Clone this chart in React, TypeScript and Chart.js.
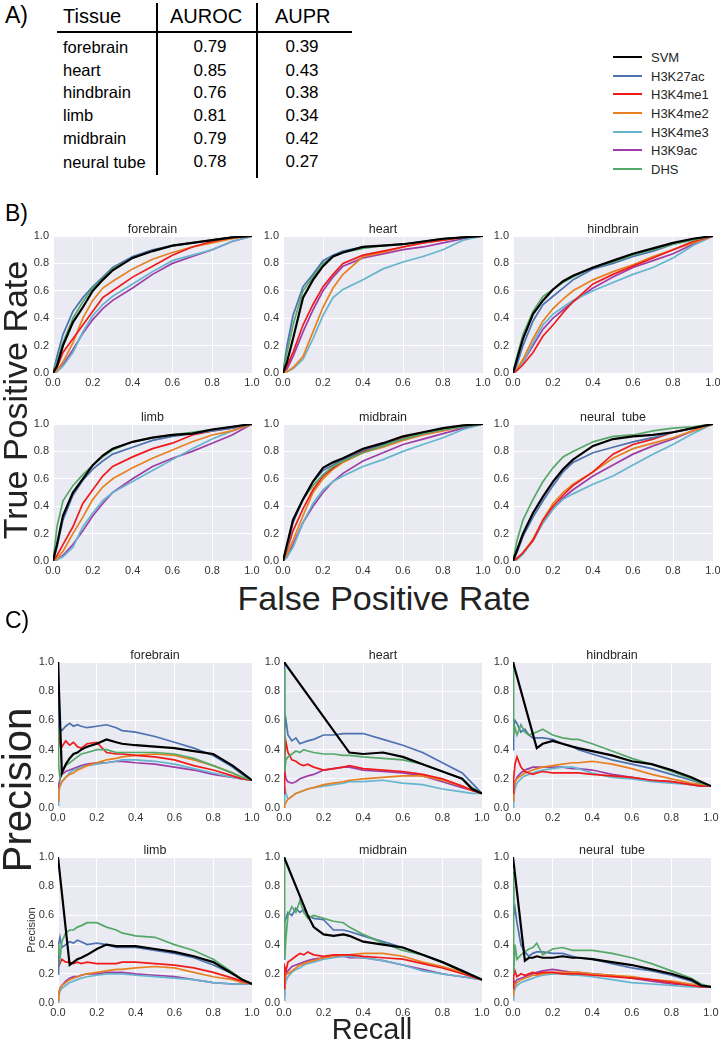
import React, { useEffect, useRef } from "react";
import { Chart, registerables } from "chart.js";
Chart.register(...registerables);

// ---------- data ----------
const SERIES = ["SVM", "H3K27ac", "H3K4me1", "H3K4me2", "H3K4me3", "H3K9ac", "DHS"];
const COLORS = ["#000000", "#4C72B0", "#F01A1A", "#E8801F", "#64B5CD", "#9E3DA8", "#55A868"];
const DRAW_ORDER = [0, 2, 3, 4, 5, 6, 1];
const TISSUES = ["forebrain", "heart", "hindbrain", "limb", "midbrain", "neural  tube"];
const TABLE_TISSUES = ["forebrain", "heart", "hindbrain", "limb", "midbrain", "neural tube"];
const AUROC = ["0.79", "0.85", "0.76", "0.81", "0.79", "0.78"];
const AUPR = ["0.39", "0.43", "0.38", "0.34", "0.42", "0.27"];
const TICKS = [0, 0.2, 0.4, 0.6, 0.8, 1.0];

const ROC_FPR = [0, 0.02, 0.05, 0.1, 0.15, 0.2, 0.25, 0.3, 0.4, 0.5, 0.6, 0.7, 0.8, 0.9, 1.0];
// series order: SVM, H3K27ac, H3K4me1, H3K4me2, H3K4me3, H3K9ac, DHS
const rocForebrain = [
  [0, 0.05, 0.2, 0.37, 0.48, 0.6, 0.68, 0.75, 0.84, 0.89, 0.93, 0.95, 0.97, 0.99, 1],
  [0, 0.12, 0.28, 0.45, 0.55, 0.63, 0.7, 0.77, 0.85, 0.9, 0.93, 0.95, 0.97, 0.99, 1],
  [0, 0.04, 0.15, 0.25, 0.35, 0.45, 0.55, 0.6, 0.7, 0.78, 0.86, 0.92, 0.96, 0.99, 1],
  [0, 0.02, 0.08, 0.22, 0.4, 0.53, 0.62, 0.67, 0.76, 0.83, 0.88, 0.92, 0.95, 0.98, 1],
  [0, 0.01, 0.05, 0.15, 0.3, 0.42, 0.5, 0.56, 0.65, 0.74, 0.82, 0.86, 0.9, 0.96, 1],
  [0, 0.01, 0.06, 0.17, 0.29, 0.39, 0.47, 0.53, 0.62, 0.72, 0.8, 0.85, 0.9, 0.96, 1],
  [0, 0.08, 0.22, 0.4, 0.52, 0.62, 0.69, 0.76, 0.84, 0.89, 0.93, 0.95, 0.97, 0.99, 1],
];
const rocHeart = [
  [0, 0.08, 0.25, 0.55, 0.68, 0.78, 0.85, 0.88, 0.92, 0.93, 0.94, 0.96, 0.98, 0.99, 1],
  [0, 0.2, 0.42, 0.63, 0.72, 0.82, 0.86, 0.89, 0.92, 0.93, 0.94, 0.96, 0.98, 0.99, 1],
  [0, 0.05, 0.15, 0.35, 0.5, 0.63, 0.72, 0.8, 0.86, 0.89, 0.92, 0.95, 0.97, 0.99, 1],
  [0, 0.01, 0.04, 0.12, 0.3, 0.48, 0.62, 0.72, 0.85, 0.88, 0.92, 0.95, 0.97, 0.99, 1],
  [0, 0.01, 0.03, 0.1, 0.25, 0.42, 0.55, 0.61, 0.68, 0.76, 0.81, 0.85, 0.9, 0.97, 1],
  [0, 0.03, 0.12, 0.3, 0.46, 0.6, 0.7, 0.78, 0.84, 0.87, 0.9, 0.92, 0.95, 0.98, 1],
  [0, 0.15, 0.35, 0.6, 0.7, 0.8, 0.85, 0.88, 0.91, 0.93, 0.94, 0.96, 0.98, 0.99, 1],
];
const rocHindbrain = [
  [0, 0.1, 0.25, 0.43, 0.53, 0.61, 0.67, 0.71, 0.77, 0.82, 0.87, 0.91, 0.95, 0.98, 1],
  [0, 0.06, 0.2, 0.38, 0.5, 0.56, 0.62, 0.68, 0.76, 0.8, 0.85, 0.89, 0.94, 0.98, 1],
  [0, 0.02, 0.06, 0.15, 0.27, 0.35, 0.44, 0.52, 0.65, 0.72, 0.78, 0.84, 0.9, 0.96, 1],
  [0, 0.03, 0.1, 0.25, 0.38, 0.47, 0.54, 0.6, 0.68, 0.74, 0.79, 0.85, 0.9, 0.95, 1],
  [0, 0.02, 0.08, 0.22, 0.35, 0.43, 0.48, 0.53, 0.6, 0.66, 0.72, 0.77, 0.84, 0.93, 1],
  [0, 0.02, 0.08, 0.2, 0.32, 0.4, 0.46, 0.52, 0.62, 0.7, 0.77, 0.82, 0.87, 0.94, 1],
  [0, 0.12, 0.28, 0.45, 0.56, 0.61, 0.66, 0.7, 0.77, 0.81, 0.86, 0.9, 0.94, 0.97, 1],
];
const rocLimb = [
  [0, 0.12, 0.33, 0.5, 0.6, 0.7, 0.77, 0.82, 0.87, 0.9, 0.92, 0.93, 0.96, 0.98, 1],
  [0, 0.1, 0.3, 0.48, 0.59, 0.67, 0.73, 0.78, 0.83, 0.88, 0.91, 0.93, 0.95, 0.97, 1],
  [0, 0.04, 0.12, 0.25, 0.42, 0.52, 0.62, 0.69, 0.76, 0.82, 0.86, 0.92, 0.95, 0.97, 1],
  [0, 0.02, 0.07, 0.2, 0.32, 0.45, 0.54, 0.6, 0.68, 0.75, 0.81, 0.87, 0.92, 0.95, 1],
  [0, 0.01, 0.03, 0.1, 0.25, 0.35, 0.44, 0.5, 0.58, 0.66, 0.74, 0.82, 0.89, 0.95, 1],
  [0, 0.01, 0.04, 0.12, 0.22, 0.33, 0.42, 0.5, 0.6, 0.69, 0.75, 0.8, 0.86, 0.92, 1],
  [0, 0.25, 0.44, 0.55, 0.63, 0.7, 0.76, 0.81, 0.87, 0.9, 0.92, 0.94, 0.96, 0.98, 1],
];
const rocMidbrain = [
  [0, 0.12, 0.3, 0.45, 0.58, 0.68, 0.72, 0.75, 0.82, 0.86, 0.91, 0.94, 0.97, 0.99, 1],
  [0, 0.1, 0.28, 0.45, 0.58, 0.66, 0.7, 0.74, 0.81, 0.85, 0.89, 0.93, 0.96, 0.98, 1],
  [0, 0.08, 0.22, 0.38, 0.52, 0.62, 0.68, 0.73, 0.8, 0.85, 0.9, 0.94, 0.96, 0.98, 1],
  [0, 0.05, 0.15, 0.33, 0.5, 0.6, 0.67, 0.72, 0.79, 0.83, 0.88, 0.92, 0.95, 0.98, 1],
  [0, 0.03, 0.1, 0.28, 0.42, 0.52, 0.58, 0.62, 0.69, 0.74, 0.8, 0.85, 0.9, 0.96, 1],
  [0, 0.03, 0.12, 0.28, 0.4, 0.5, 0.58, 0.64, 0.73, 0.79, 0.85, 0.89, 0.93, 0.97, 1],
  [0, 0.1, 0.3, 0.45, 0.55, 0.63, 0.69, 0.73, 0.79, 0.84, 0.89, 0.93, 0.96, 0.98, 1],
];
const rocNeuralTube = [
  [0, 0.08, 0.2, 0.35, 0.47, 0.58, 0.67, 0.74, 0.84, 0.89, 0.91, 0.92, 0.94, 0.97, 1],
  [0, 0.06, 0.18, 0.32, 0.44, 0.55, 0.65, 0.72, 0.79, 0.83, 0.87, 0.9, 0.94, 0.97, 1],
  [0, 0.02, 0.06, 0.15, 0.3, 0.4, 0.48, 0.55, 0.65, 0.78, 0.85, 0.89, 0.94, 0.97, 1],
  [0, 0.02, 0.06, 0.16, 0.3, 0.42, 0.5, 0.56, 0.65, 0.75, 0.82, 0.86, 0.9, 0.95, 1],
  [0, 0.01, 0.05, 0.15, 0.28, 0.38, 0.45, 0.49, 0.56, 0.62, 0.7, 0.78, 0.85, 0.93, 1],
  [0, 0.02, 0.06, 0.15, 0.28, 0.38, 0.46, 0.52, 0.62, 0.7, 0.78, 0.84, 0.89, 0.95, 1],
  [0, 0.15, 0.3, 0.45, 0.58, 0.68, 0.76, 0.8, 0.87, 0.91, 0.92, 0.95, 0.97, 0.98, 1],
];

const PR_RECALL = [0, 0.003, 0.01, 0.02, 0.04, 0.06, 0.08, 0.1, 0.12, 0.15, 0.2, 0.25, 0.3, 0.33, 0.4, 0.5, 0.6, 0.7, 0.8, 0.9, 0.95, 1.0];
const prForebrain = [
  [1.0, null, null, 0.24, 0.3, 0.34, 0.37, 0.38, 0.4, 0.42, 0.44, 0.47, 0.45, 0.44, 0.43, 0.42, 0.41, 0.39, 0.37, 0.29, 0.24, 0.19],
  [1.0, 0.5, 0.55, 0.53, 0.56, 0.58, 0.56, 0.57, 0.56, 0.55, 0.56, 0.57, 0.55, 0.53, 0.52, 0.49, 0.45, 0.41, 0.36, 0.28, 0.23, 0.19],
  [0.75, 0.42, 0.47, 0.42, 0.46, 0.43, 0.45, 0.42, 0.41, 0.44, 0.45, 0.38, 0.37, 0.37, 0.36, 0.35, 0.33, 0.29, 0.26, 0.22, 0.2, 0.19],
  [0.05, 0.12, 0.15, 0.18, 0.21, 0.23, 0.24, 0.26, 0.27, 0.29, 0.31, 0.33, 0.34, 0.35, 0.36, 0.37, 0.36, 0.33, 0.29, 0.24, 0.21, 0.19],
  [0.02, 0.1, 0.15, 0.18, 0.21, 0.24, 0.26, 0.27, 0.28, 0.29, 0.3, 0.31, 0.32, 0.33, 0.33, 0.32, 0.3, 0.27, 0.24, 0.21, 0.2, 0.19],
  [0.05, 0.15, 0.2, 0.23, 0.25, 0.26, 0.27, 0.28, 0.29, 0.3, 0.31, 0.31, 0.32, 0.32, 0.31, 0.3, 0.28, 0.26, 0.23, 0.21, 0.2, 0.19],
  [0.55, 0.3, 0.2, 0.25, 0.29, 0.31, 0.33, 0.35, 0.37, 0.38, 0.4, 0.4, 0.38, 0.38, 0.38, 0.38, 0.37, 0.34, 0.29, 0.24, 0.21, 0.19],
];
const prHeart = [
  [1.0, null, null, null, null, null, null, null, null, null, null, null, null, 0.38, 0.37, 0.38, 0.35, 0.3, 0.25, 0.2, 0.13, 0.1],
  [1.0, 0.55, 0.6, 0.5, 0.46, 0.48, 0.44, 0.45, 0.46, 0.47, 0.5, 0.5, 0.51, 0.51, 0.51, 0.47, 0.43, 0.38, 0.31, 0.24, 0.17, 0.1],
  [0.1, 0.35, 0.45, 0.38, 0.33, 0.32, 0.3, 0.29, 0.3, 0.28, 0.26, 0.27, 0.28, 0.29, 0.27, 0.26, 0.25, 0.23, 0.2, 0.15, 0.12, 0.1],
  [0.0, 0.02, 0.04, 0.06, 0.08, 0.1, 0.11, 0.12, 0.13, 0.14, 0.16, 0.17, 0.18, 0.19, 0.2, 0.21, 0.22, 0.22, 0.19, 0.15, 0.12, 0.1],
  [0.0, 0.15, 0.1, 0.06, 0.08, 0.1, 0.11, 0.12, 0.13, 0.14, 0.15, 0.16, 0.17, 0.18, 0.18, 0.19, 0.17, 0.16, 0.13, 0.11, 0.1, 0.1],
  [0.65, 0.25, 0.2, 0.18, 0.17, 0.18, 0.2, 0.21, 0.22, 0.23, 0.26, 0.27, 0.28, 0.28, 0.26, 0.25, 0.24, 0.22, 0.18, 0.14, 0.12, 0.1],
  [0.95, 0.25, 0.33, 0.35, 0.37, 0.39, 0.38, 0.4, 0.39, 0.38, 0.37, 0.37, 0.36, 0.36, 0.35, 0.34, 0.33, 0.3, 0.25, 0.2, 0.14, 0.1],
];
const prHindbrain = [
  [1.0, null, null, null, null, null, null, null, 0.41, 0.44, 0.46, 0.44, 0.42, 0.41, 0.39, 0.36, 0.32, 0.3, 0.26, 0.21, 0.18, 0.15],
  [0.4, 0.55, 0.6, 0.58, 0.52, 0.54, 0.5, 0.48, 0.48, 0.48, 0.47, 0.44, 0.42, 0.4, 0.37, 0.33, 0.3, 0.27, 0.23, 0.19, 0.17, 0.15],
  [0.1, 0.2, 0.3, 0.35, 0.28, 0.25, 0.24, 0.23, 0.24, 0.25, 0.24, 0.24, 0.24, 0.24, 0.23, 0.22, 0.21, 0.19, 0.18, 0.16, 0.15, 0.15],
  [0.05, 0.12, 0.18, 0.2, 0.22, 0.24, 0.25, 0.26, 0.27, 0.28, 0.29, 0.3, 0.31, 0.31, 0.32, 0.3, 0.27, 0.23, 0.2, 0.17, 0.16, 0.15],
  [0.0, 0.08, 0.13, 0.17, 0.2, 0.22, 0.23, 0.24, 0.25, 0.26, 0.27, 0.28, 0.28, 0.27, 0.24, 0.21, 0.2, 0.18, 0.17, 0.16, 0.15, 0.15],
  [0.05, 0.12, 0.18, 0.21, 0.24, 0.26, 0.27, 0.28, 0.28, 0.28, 0.28, 0.28, 0.27, 0.27, 0.26, 0.23, 0.21, 0.19, 0.18, 0.16, 0.15, 0.15],
  [1.0, 0.5, 0.55, 0.5, 0.57, 0.52, 0.5, 0.51, 0.52, 0.54, 0.5, 0.48, 0.47, 0.47, 0.44, 0.39, 0.34, 0.3, 0.25, 0.2, 0.17, 0.15],
];
const prLimb = [
  [1.0, null, null, null, null, 0.26, 0.28, 0.3, 0.31, 0.33, 0.37, 0.4, 0.39, 0.39, 0.39, 0.37, 0.35, 0.32, 0.28, 0.2, 0.16, 0.13],
  [0.2, 0.4, 0.45, 0.38, 0.4, 0.42, 0.41, 0.43, 0.42, 0.4, 0.41, 0.4, 0.38, 0.38, 0.38, 0.36, 0.34, 0.31, 0.26, 0.2, 0.16, 0.13],
  [0.25, 0.3, 0.27, 0.3, 0.28, 0.28, 0.27, 0.28, 0.27, 0.28, 0.27, 0.27, 0.27, 0.28, 0.28, 0.27, 0.26, 0.24, 0.21, 0.17, 0.15, 0.13],
  [0.02, 0.06, 0.1, 0.12, 0.14, 0.16, 0.17, 0.18, 0.19, 0.2, 0.21, 0.22, 0.23, 0.23, 0.24, 0.25, 0.24, 0.21, 0.18, 0.16, 0.14, 0.13],
  [0.0, 0.04, 0.08, 0.1, 0.12, 0.14, 0.15, 0.16, 0.17, 0.18, 0.19, 0.2, 0.2, 0.2, 0.19, 0.18, 0.17, 0.16, 0.14, 0.13, 0.13, 0.13],
  [0.02, 0.06, 0.1, 0.12, 0.15, 0.17, 0.18, 0.18, 0.19, 0.2, 0.2, 0.21, 0.21, 0.21, 0.2, 0.19, 0.18, 0.16, 0.14, 0.13, 0.13, 0.13],
  [0.35, 0.4, 0.3, 0.42, 0.48, 0.5, 0.5, 0.52, 0.53, 0.55, 0.55, 0.52, 0.5, 0.48, 0.46, 0.45, 0.4, 0.36, 0.3, 0.21, 0.16, 0.13],
];
const prMidbrain = [
  [1.0, null, null, null, null, null, null, null, 0.6, 0.52, 0.47, 0.46, 0.47, 0.46, 0.42, 0.4, 0.38, 0.33, 0.28, 0.22, 0.19, 0.16],
  [0.3, 0.55, 0.58, 0.62, 0.6, 0.65, 0.62, 0.64, 0.6, 0.58, 0.57, 0.5, 0.5, 0.49, 0.46, 0.42, 0.38, 0.33, 0.28, 0.22, 0.19, 0.16],
  [0.1, 0.25, 0.22, 0.28, 0.3, 0.32, 0.34, 0.33, 0.35, 0.33, 0.32, 0.33, 0.33, 0.33, 0.32, 0.31, 0.3, 0.27, 0.24, 0.2, 0.18, 0.16],
  [0.1, 0.15, 0.2, 0.2, 0.22, 0.24, 0.26, 0.27, 0.28, 0.29, 0.31, 0.32, 0.33, 0.33, 0.34, 0.34, 0.32, 0.28, 0.25, 0.21, 0.18, 0.16],
  [0.02, 0.1, 0.15, 0.18, 0.21, 0.23, 0.24, 0.26, 0.27, 0.28, 0.3, 0.31, 0.32, 0.32, 0.31, 0.29, 0.26, 0.22, 0.2, 0.18, 0.17, 0.16],
  [0.05, 0.15, 0.2, 0.22, 0.25, 0.26, 0.27, 0.28, 0.29, 0.3, 0.31, 0.32, 0.32, 0.31, 0.31, 0.29, 0.26, 0.23, 0.2, 0.18, 0.17, 0.16],
  [1.0, 0.3, 0.45, 0.6, 0.66, 0.62, 0.7, 0.62, 0.58, 0.6, 0.58, 0.56, 0.55, 0.52, 0.47, 0.41, 0.36, 0.33, 0.28, 0.22, 0.19, 0.16],
];
const prNeuralTube = [
  [1.0, null, null, null, null, 0.29, 0.31, 0.31, 0.32, 0.31, 0.31, 0.32, 0.31, 0.31, 0.3, 0.28, 0.26, 0.23, 0.2, 0.16, 0.12, 0.11],
  [0.8, 0.6, 0.65, 0.55, 0.4, 0.35, 0.32, 0.34, 0.35, 0.35, 0.34, 0.34, 0.32, 0.31, 0.3, 0.27, 0.24, 0.22, 0.19, 0.15, 0.12, 0.11],
  [0.1, 0.18, 0.22, 0.18, 0.2, 0.19, 0.2, 0.21, 0.2, 0.21, 0.21, 0.2, 0.2, 0.2, 0.19, 0.18, 0.17, 0.16, 0.14, 0.12, 0.11, 0.11],
  [0.05, 0.1, 0.12, 0.14, 0.16, 0.17, 0.18, 0.19, 0.19, 0.2, 0.21, 0.21, 0.21, 0.21, 0.2, 0.19, 0.18, 0.16, 0.15, 0.13, 0.12, 0.11],
  [0.02, 0.06, 0.1, 0.12, 0.14, 0.15, 0.16, 0.17, 0.18, 0.19, 0.2, 0.2, 0.19, 0.19, 0.18, 0.16, 0.14, 0.13, 0.12, 0.11, 0.11, 0.11],
  [0.1, 0.15, 0.14, 0.16, 0.17, 0.18, 0.19, 0.2, 0.21, 0.22, 0.23, 0.22, 0.21, 0.21, 0.2, 0.19, 0.17, 0.15, 0.13, 0.12, 0.11, 0.11],
  [0.9, 0.2, 0.4, 0.3, 0.33, 0.35, 0.37, 0.38, 0.41, 0.33, 0.37, 0.38, 0.36, 0.36, 0.36, 0.34, 0.31, 0.27, 0.22, 0.17, 0.13, 0.11],
];

const ROC_DATA = [rocForebrain, rocHeart, rocHindbrain, rocLimb, rocMidbrain, rocNeuralTube];
const PR_DATA = [prForebrain, prHeart, prHindbrain, prLimb, prMidbrain, prNeuralTube];

// ---------- layout ----------
const FONT = '"Liberation Sans", Arial, Helvetica, sans-serif';
const ROC_LEFT = [53, 283, 513];
const ROC_WIDTH = [199, 200, 200];
const ROC_TOP = [236, 424];
const ROC_HEIGHT = 137;
const PR_LEFT = [58, 284, 513];
const PR_WIDTH = [194, 198, 198];
const PR_TOP = [662, 857];
const PR_HEIGHT = 146;
const PAD_L = 36, PAD_T = 18, PAD_R = 14, PAD_B = 18;

const panelPlugin = {
  id: "panelDecor",
  beforeDraw(chart: any) {
    const { ctx, chartArea: a } = chart;
    ctx.save();
    ctx.fillStyle = "#EAEAF2";
    ctx.fillRect(a.left, a.top, a.right - a.left, a.bottom - a.top);
    ctx.restore();
  },
  afterDraw(chart: any, _args: any, opts: any) {
    const { ctx, chartArea: a } = chart;
    ctx.save();
    ctx.font = `12.5px ${FONT}`;
    ctx.fillStyle = "#262626";
    ctx.textAlign = "center";
    ctx.textBaseline = "alphabetic";
    ctx.fillText(opts.text, (a.left + a.right) / 2, a.top - 3);
    ctx.restore();
  },
};

function Panel(props: { left: number; top: number; width: number; height: number; title: string; xs: number[]; ys: (number | null)[][] }) {
  const { left, top, width, height, title, xs, ys } = props;
  const ref = useRef<HTMLCanvasElement | null>(null);
  useEffect(() => {
    const tickFont = { family: FONT, size: 11 };
    const axis = (isX: boolean) => ({
      type: "linear" as const,
      min: 0,
      max: 1,
      afterBuildTicks: (s: any) => { s.ticks = TICKS.map((v) => ({ value: v })); },
      afterFit: (s: any) => { if (isX) s.height = PAD_B; else s.width = PAD_L; },
      grid: { color: "#FFFFFF", lineWidth: 1, drawTicks: false },
      border: { display: false },
      ticks: {
        font: tickFont,
        color: "#333333",
        padding: isX ? 3 : 4,
        maxRotation: 0,
        autoSkip: false,
        callback: (v: any) => Number(v).toFixed(1),
      },
    });
    const chart = new Chart(ref.current as HTMLCanvasElement, {
      type: "line",
      data: {
        datasets: SERIES.map((name, i) => ({
          label: name,
          data: xs.map((x, j) => ({ x, y: ys[i][j] })),
          borderColor: COLORS[i],
          backgroundColor: COLORS[i],
          borderWidth: i === 0 ? 2.2 : 1.7,
          pointRadius: 0,
          fill: false,
          tension: 0,
          spanGaps: true,
          order: DRAW_ORDER[i],
        })),
      },
      options: {
        animation: false,
        responsive: false,
        devicePixelRatio: 1,
        layout: { padding: { top: PAD_T, right: PAD_R, left: 0, bottom: 0 } },
        scales: { x: axis(true), y: axis(false) },
        plugins: {
          legend: { display: false },
          tooltip: { enabled: false },
          panelDecor: { text: title },
        } as any,
        events: [],
      },
      plugins: [panelPlugin],
    });
    return () => chart.destroy();
  }, []);
  return (
    <canvas
      ref={ref}
      width={width + PAD_L + PAD_R}
      height={height + PAD_T + PAD_B}
      style={{ position: "absolute", left: left - PAD_L, top: top - PAD_T, width: width + PAD_L + PAD_R, height: height + PAD_T + PAD_B }}
    />
  );
}

function Txt(props: { x: number; base: number; size: number; children: any; color?: string; align?: "left" | "center"; w?: number }) {
  const { x, base, size, children, color, align, w } = props;
  const top = base - 0.8465 * size;
  const style: any = {
    position: "absolute",
    top,
    fontFamily: FONT,
    fontSize: size,
    lineHeight: `${size}px`,
    color: color || "#000",
    whiteSpace: "pre",
  };
  if (align === "center") {
    style.left = x - (w || 60) / 2;
    style.width = w || 60;
    style.textAlign = "center";
  } else style.left = x;
  return <div style={style}>{children}</div>;
}

function VText(props: { cx: number; cy: number; size: number; children: any; color?: string }) {
  const { cx, cy, size, children, color } = props;
  return (
    <div
      style={{
        position: "absolute",
        left: cx,
        top: cy,
        transform: "translate(-50%, -50%) rotate(-90deg)",
        fontFamily: FONT,
        fontSize: size,
        lineHeight: `${size}px`,
        color: color || "#222",
        whiteSpace: "nowrap",
      }}
    >
      {children}
    </div>
  );
}

export default function App() {
  const rowBase = [52.7, 76, 98.3, 121, 144.3, 167.7];
  const legendY = [57, 76, 94, 113, 132, 150, 169];
  return (
    <div style={{ position: "absolute", left: 0, top: 0, width: 720, height: 1050, background: "#fff", overflow: "hidden" }}>
      {/* Panel A: table */}
      <Txt x={5} base={23} size={23}>A)</Txt>
      <Txt x={63} base={23} size={20}>Tissue</Txt>
      <Txt x={170} base={23} size={20}>AUROC</Txt>
      <Txt x={275} base={23} size={20}>AUPR</Txt>
      <div style={{ position: "absolute", left: 57, top: 31, width: 295, height: 2, background: "#000" }} />
      <div style={{ position: "absolute", left: 156, top: 3, width: 2, height: 172, background: "#000" }} />
      <div style={{ position: "absolute", left: 256, top: 3, width: 2, height: 175, background: "#000" }} />
      {TABLE_TISSUES.map((t, i) => (
        <React.Fragment key={t}>
          <Txt x={63} base={rowBase[i]} size={16.5}>{t}</Txt>
          <Txt x={210} base={rowBase[i]} size={17} align="center">{AUROC[i]}</Txt>
          <Txt x={302} base={rowBase[i]} size={17} align="center">{AUPR[i]}</Txt>
        </React.Fragment>
      ))}

      {/* Legend */}
      {SERIES.map((s, i) => (
        <React.Fragment key={s}>
          <div style={{ position: "absolute", left: 613, top: legendY[i] - 1, width: 29, height: 2, background: COLORS[i] }} />
          <Txt x={651} base={legendY[i] + 4.6} size={13} color="#262626">{s}</Txt>
        </React.Fragment>
      ))}

      {/* Panel B: ROC */}
      <Txt x={5} base={221} size={23}>B)</Txt>
      {TISSUES.map((t, k) => (
        <Panel
          key={"roc" + k}
          left={ROC_LEFT[k % 3]}
          top={ROC_TOP[Math.floor(k / 3)]}
          width={ROC_WIDTH[k % 3]}
          height={ROC_HEIGHT}
          title={t}
          xs={ROC_FPR}
          ys={ROC_DATA[k]}
        />
      ))}
      <VText cx={15} cy={400} size={34}>True Positive Rate</VText>
      <Txt x={384} base={610} size={34} align="center" w={420} color="#222">False Positive Rate</Txt>

      {/* Panel C: PR */}
      <Txt x={5} base={628} size={23}>C)</Txt>
      {TISSUES.map((t, k) => (
        <Panel
          key={"pr" + k}
          left={PR_LEFT[k % 3]}
          top={PR_TOP[Math.floor(k / 3)]}
          width={PR_WIDTH[k % 3]}
          height={PR_HEIGHT}
          title={t}
          xs={PR_RECALL}
          ys={PR_DATA[k]}
        />
      ))}
      <VText cx={17} cy={790} size={40}>Precision</VText>
      <VText cx={31} cy={930} size={11} color="#333">Precision</VText>
      <Txt x={372} base={1040} size={29} align="center" w={200} color="#222">Recall</Txt>
    </div>
  );
}
